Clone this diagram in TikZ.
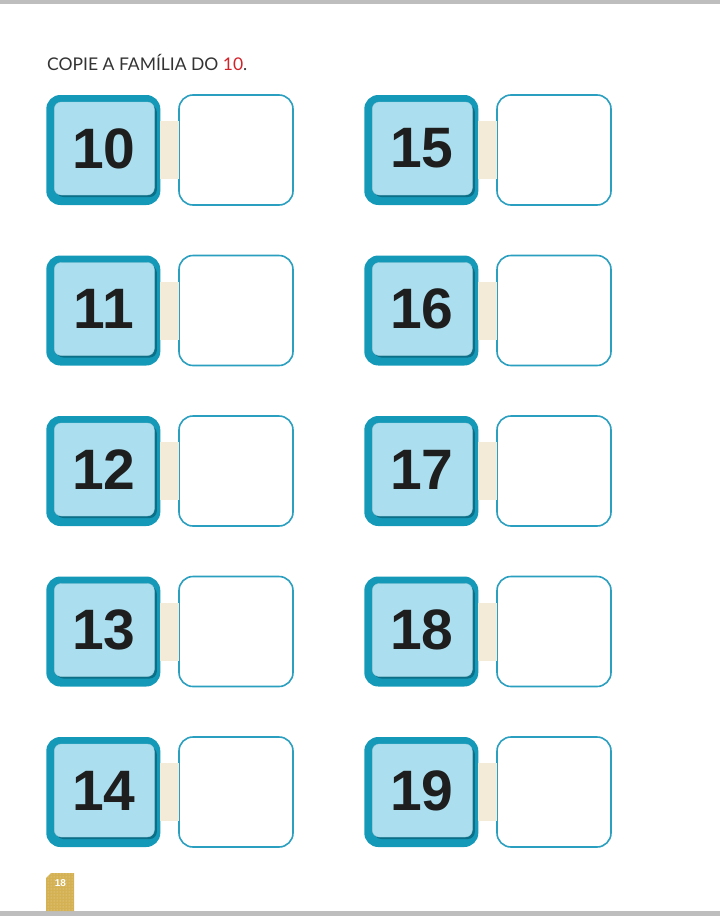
\documentclass[tikz,border=0pt]{standalone}
\usepackage{fontspec}
\setmainfont{Liberation Sans}
\newfontfamily\titlefont{Lato}
\usetikzlibrary{patterns}
\definecolor{tealout}{HTML}{1599B8}
\definecolor{tealshadow}{HTML}{0B6F88}
\definecolor{lightblue}{HTML}{ABDFF0}
\definecolor{boxline}{HTML}{2A9FBF}
\definecolor{bandc}{HTML}{F3EBD8}
\definecolor{numred}{HTML}{D2232A}
\definecolor{titlec}{HTML}{333333}
\definecolor{barc}{HTML}{BEBEBE}
\definecolor{tabc}{HTML}{D4B153}
\definecolor{digitc}{HTML}{1E1E1E}
\begin{document}
\begin{tikzpicture}[x=1pt,y=-1pt,
  numbox/.style={rounded corners=14pt, fill=tealout, outer sep=0pt,
    minimum width=114pt, minimum height=110pt, inner sep=0pt,
    text=digitc, font=\fontsize{57}{57}\selectfont\bfseries,
    path picture={
      \fill[tealshadow, rounded corners=7pt]
        ([shift={(10pt,8pt)}]path picture bounding box.south west)
        rectangle ([shift={(-3.5pt,-10pt)}]path picture bounding box.north east);
      \fill[lightblue, draw=lightblue!80!gray, line width=0.4pt, rounded corners=7pt]
        ([shift={(8pt,10pt)}]path picture bounding box.south west)
        rectangle ([shift={(-6pt,-7pt)}]path picture bounding box.north east);
      \node[text=digitc] at ([shift={(0.5pt,1.5pt)}]path picture bounding box.center) {\tikzlabel};
    }},
  ansbox/.style={draw=boxline, line width=1.6pt, fill=white, rounded corners=14pt,
    minimum width=114pt, minimum height=110pt, outer sep=0pt},
  band/.style={bandc, line width=58pt}]
  \useasboundingbox (0,0) rectangle (720,916);
  % top and bottom bars
  \fill[barc] (0,0) rectangle (720,3.5);
  \fill[barc] (0,911) rectangle (720,916);
  % title
  \node[anchor=base west, inner sep=0pt, text=titlec, font=\titlefont\fontsize{17.5}{20}\selectfont] (title) at (47,70.5) {COPIE A FAMÍLIA DO \textcolor{numred}{10}.};
  % left column
  \def\tikzlabel{10}\node[numbox] (n10) at (103.3,150) {};
  \def\tikzlabel{11}\node[numbox] (n11) at (103.3,310.5) {};
  \def\tikzlabel{12}\node[numbox] (n12) at (103.3,471) {};
  \def\tikzlabel{13}\node[numbox] (n13) at (103.3,631.5) {};
  \def\tikzlabel{14}\node[numbox] (n14) at (103.3,792) {};
  \node[ansbox] (a10) at (236,150) {};
  \node[ansbox] (a11) at (236,310.5) {};
  \node[ansbox] (a12) at (236,471) {};
  \node[ansbox] (a13) at (236,631.5) {};
  \node[ansbox] (a14) at (236,792) {};
  % right column
  \def\tikzlabel{15}\node[numbox] (n15) at (421.3,150) {};
  \def\tikzlabel{16}\node[numbox] (n16) at (421.3,310.5) {};
  \def\tikzlabel{17}\node[numbox] (n17) at (421.3,471) {};
  \def\tikzlabel{18}\node[numbox] (n18) at (421.3,631.5) {};
  \def\tikzlabel{19}\node[numbox] (n19) at (421.3,792) {};
  \node[ansbox] (a15) at (554,150) {};
  \node[ansbox] (a16) at (554,310.5) {};
  \node[ansbox] (a17) at (554,471) {};
  \node[ansbox] (a18) at (554,631.5) {};
  \node[ansbox] (a19) at (554,792) {};
  % bands
  \draw[band] (n10.east) -- (a10.west);
  \draw[band] (n11.east) -- (a11.west);
  \draw[band] (n12.east) -- (a12.west);
  \draw[band] (n13.east) -- (a13.west);
  \draw[band] (n14.east) -- (a14.west);
  \draw[band] (n15.east) -- (a15.west);
  \draw[band] (n16.east) -- (a16.west);
  \draw[band] (n17.east) -- (a17.west);
  \draw[band] (n18.east) -- (a18.west);
  \draw[band] (n19.east) -- (a19.west);
  % page tab
  \fill[tabc] (46,911) -- (46,878) -- (51,873) -- (74,873) -- (74,911) -- cycle;
  \fill[pattern=dots, pattern color=tabc!45!white] (46,911) -- (46,878) -- (51,873) -- (74,873) -- (74,911) -- cycle;
  \node[text=white, font=\fontsize{10}{10}\selectfont\bfseries, inner sep=0pt] (page) at (60.5,883.5) {18};
\end{tikzpicture}
\end{document}
